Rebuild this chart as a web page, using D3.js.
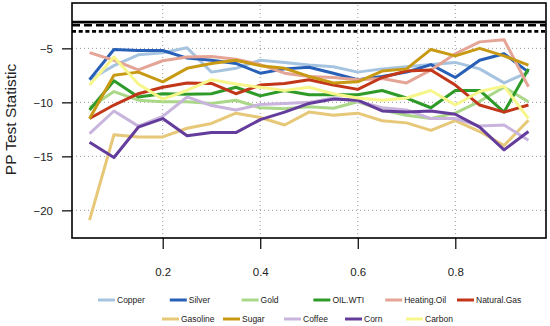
<!DOCTYPE html>
<html>
<head>
<meta charset="utf-8">
<script src="https://cdn.jsdelivr.net/npm/d3@7"></script>
<style>
  body { margin: 0; background: #fff; }
  text { font-family: "Liberation Sans", Arial, sans-serif; }
</style>
</head>
<body>
<svg id="chart" width="550" height="326"></svg>
<script>
const quantiles = [0.05, 0.10, 0.15, 0.20, 0.25, 0.30, 0.35, 0.40, 0.45, 0.50,
                   0.55, 0.60, 0.65, 0.70, 0.75, 0.80, 0.85, 0.90, 0.95];

const names = ["Copper", "Silver", "Gold", "OIL.WTI", "Heating.Oil", "Natural.Gas",
               "Gasoline", "Sugar", "Coffee", "Corn", "Carbon"];
const colors = ["#a6c4e0", "#2860b8", "#aad888", "#2e9a28", "#e4a496", "#c2361a",
                "#e6c878", "#c89a14", "#c8b4dc", "#643c9c", "#f6f68a"];

const copper     = [-7.9, -6.6, -5.6, -5.4, -4.95, -7.2, -6.85, -6.1, -6.3, -6.55, -6.7, -7.2, -6.9, -6.7, -6.5, -6.3, -6.9, -8.2, -7.2];
const silver     = [-7.9, -5.1, -5.2, -5.2, -5.9, -6.1, -6.4, -7.3, -6.9, -6.75, -7.3, -7.9, -7.6, -7.2, -6.5, -7.7, -6.1, -5.5, -7.2];
const gold       = [-10.5, -9.0, -9.8, -9.95, -9.95, -10.1, -9.8, -10.5, -10.6, -10.4, -10.55, -9.95, -10.7, -11.2, -11.5, -11.0, -9.9, -8.6, -9.95];
const oilWti     = [-10.7, -8.0, -9.5, -9.2, -9.25, -9.2, -8.6, -9.4, -8.9, -9.3, -9.3, -9.3, -8.9, -9.6, -10.5, -8.9, -8.9, -10.9, -6.9];
const heatingOil = [-5.4, -6.1, -7.0, -6.15, -5.8, -5.75, -6.0, -6.5, -7.3, -7.6, -7.7, -7.9, -7.8, -8.2, -7.0, -5.5, -4.4, -4.2, -8.55];
const naturalGas = [-11.5, -10.25, -9.2, -8.6, -8.2, -8.25, -9.2, -8.4, -8.25, -7.9, -8.4, -8.8, -7.7, -7.1, -7.0, -8.4, -10.25, -10.9, -10.25];
const gasoline   = [-20.9, -13.0, -13.2, -13.2, -12.4, -11.95, -11.0, -11.4, -12.1, -10.9, -11.2, -11.0, -11.7, -11.9, -12.6, -11.7, -12.7, -14.0, -11.65];
const sugar      = [-11.5, -7.5, -7.2, -8.1, -6.85, -6.4, -6.1, -6.6, -6.85, -7.6, -8.2, -8.1, -7.1, -6.9, -5.1, -5.7, -5.0, -5.7, -6.55];
const coffee     = [-12.9, -10.8, -12.2, -11.3, -9.5, -10.3, -10.7, -10.2, -10.1, -10.0, -9.6, -9.9, -10.5, -10.7, -11.5, -11.5, -12.2, -12.1, -13.5];
const corn       = [-13.7, -15.1, -12.3, -11.5, -13.1, -12.8, -12.8, -11.6, -10.9, -10.1, -9.7, -9.8, -10.8, -10.9, -10.8, -11.1, -12.3, -14.4, -12.7];
const carbon     = [-8.4, -5.8, -8.3, -9.7, -8.9, -7.9, -8.3, -8.6, -8.9, -8.6, -9.2, -9.6, -9.8, -9.6, -8.9, -10.25, -9.0, -8.5, -11.5];

const seriesValues = [copper, silver, gold, oilWti, heatingOil, naturalGas,
                      gasoline, sugar, coffee, corn, carbon];

// critical values of the PP test: 10%, 5%, 1%
const criticalValues = [-2.57, -2.86, -3.43];
const criticalDash = [null, "8,4", "4,2.7"];

const xTicks = [0.2, 0.4, 0.6, 0.8];
const yTicks = [-5, -10, -15, -20];

const svg = d3.select("#chart");
const margin = {top: 3, right: 4, bottom: 88, left: 72};
const width = +svg.attr("width");
const height = +svg.attr("height");

const x = d3.scaleLinear()
    .domain([0.014, 0.986])
    .range([margin.left, width - margin.right]);

const y = d3.scaleLinear()
    .domain([-22.56, -0.8])
    .range([height - margin.bottom, margin.top]);

// grid
svg.append("g")
    .selectAll("line")
    .data(yTicks)
    .join("line")
    .attr("x1", x.range()[0]).attr("x2", x.range()[1])
    .attr("y1", d => y(d)).attr("y2", d => y(d))
    .attr("stroke", "#999").attr("stroke-dasharray", "1,3");

svg.append("g")
    .selectAll("line")
    .data(xTicks)
    .join("line")
    .attr("y1", y.range()[0]).attr("y2", y.range()[1])
    .attr("x1", d => x(d)).attr("x2", d => x(d))
    .attr("stroke", "#999").attr("stroke-dasharray", "1,3");

// critical value lines
svg.append("g")
    .selectAll("line")
    .data(criticalValues)
    .join("line")
    .attr("x1", x.range()[0]).attr("x2", x.range()[1])
    .attr("y1", d => y(d)).attr("y2", d => y(d))
    .attr("stroke", "#000").attr("stroke-width", 2.6)
    .attr("stroke-dasharray", (d, i) => criticalDash[i]);

// series
const line = d3.line()
    .x((d, i) => x(quantiles[i]))
    .y(d => y(d));

svg.append("g")
    .selectAll("path")
    .data(seriesValues)
    .join("path")
    .attr("d", d => line(d))
    .attr("fill", "none")
    .attr("stroke", (d, i) => colors[i])
    .attr("stroke-width", 3)
    .attr("stroke-linejoin", "round");

// axes
const yAxis = svg.append("g")
    .attr("transform", "translate(" + margin.left + ",0)")
    .call(d3.axisLeft(y).tickValues(yTicks).tickSize(10).tickPadding(9));
yAxis.select(".domain").remove();
yAxis.selectAll("line").attr("stroke", "#000").attr("stroke-width", 1.2);
yAxis.selectAll("text").attr("font-size", 11.5).attr("fill", "#222")
    .style("font-family", "Liberation Sans, Arial, sans-serif");

const xAxis = svg.append("g")
    .attr("transform", "translate(0," + (height - margin.bottom) + ")")
    .call(d3.axisBottom(x).tickValues(xTicks).tickSize(11).tickPadding(19)
        .tickFormat(d3.format(".1f")));
xAxis.select(".domain").remove();
xAxis.selectAll("line").attr("stroke", "#000").attr("stroke-width", 1.2);
xAxis.selectAll("text").attr("font-size", 11.5).attr("fill", "#222")
    .style("font-family", "Liberation Sans, Arial, sans-serif");

// box
svg.append("rect")
    .attr("x", x.range()[0]).attr("y", y.range()[1])
    .attr("width", x.range()[1] - x.range()[0])
    .attr("height", y.range()[0] - y.range()[1])
    .attr("fill", "none").attr("stroke", "#000").attr("stroke-width", 1.6);

svg.append("text")
    .attr("transform", "translate(15.5," + ((y.range()[0] + y.range()[1]) / 2 - 1) + ") rotate(-90)")
    .attr("text-anchor", "middle")
    .attr("font-size", 15.5)
    .attr("fill", "#222")
    .text("PP Test Statistic");

// legend: two rows
const legendRows = [
    {start: 98, step: 71.8, y: 300, items: names.slice(0, 6), offset: 0},
    {start: 162, step: 61, y: 319, items: names.slice(6), offset: 6}
];

legendRows.forEach(row => {
    const g = svg.append("g");
    const item = g.selectAll("g")
        .data(row.items)
        .join("g")
        .attr("transform", (d, i) => "translate(" + (row.start + i * row.step) + "," + row.y + ")");
    item.append("line")
        .attr("x1", 0).attr("x2", 17)
        .attr("stroke", (d, i) => colors[row.offset + i])
        .attr("stroke-width", 3);
    item.append("text")
        .attr("x", 19).attr("dy", "0.35em")
        .attr("font-size", 8.5)
        .attr("fill", "#222")
        .text(d => d);
});
</script>
</body>
</html>
